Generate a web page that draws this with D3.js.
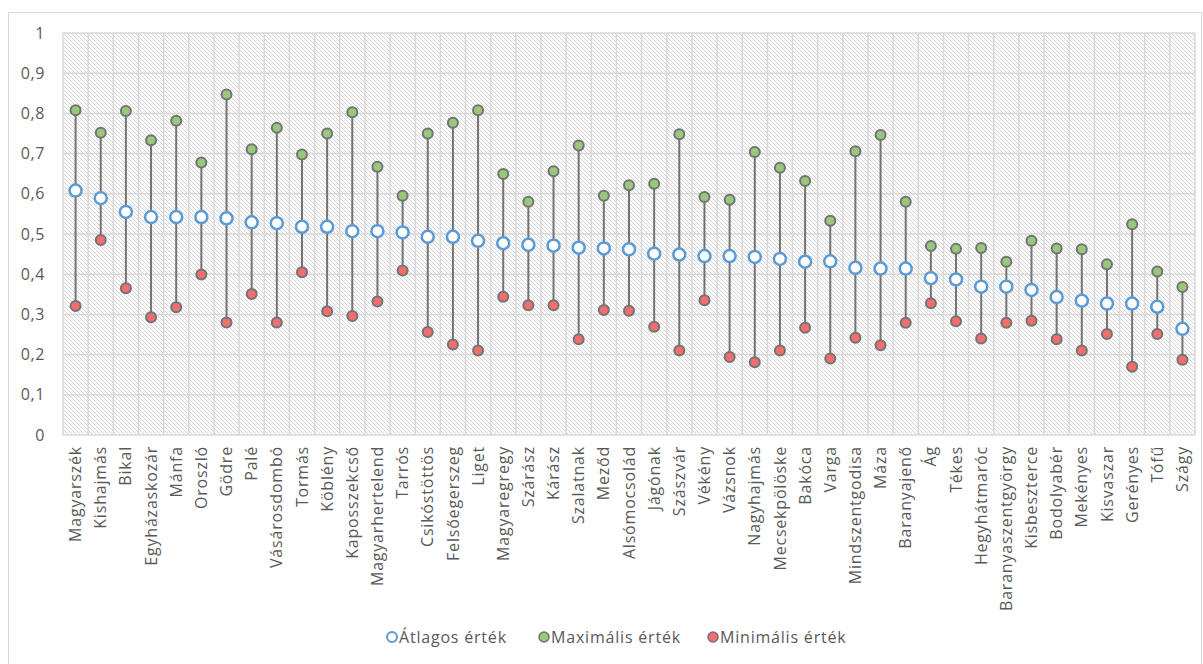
<!DOCTYPE html>
<html>
<head>
<meta charset="utf-8">
<script src="https://cdn.jsdelivr.net/npm/d3@7"></script>
<style>
  body { margin: 0; background: #fff; }
  svg { display: block; font-family: "Open Sans", sans-serif; }
</style>
</head>
<body>
<svg id="drawing_region"></svg>
<script>
const settlements = ["Magyarszék","Kishajmás","Bikal","Egyházaskozár","Mánfa","Oroszló","Gödre","Palé","Vásárosdombó","Tormás","Köblény","Kaposszekcső","Magyarhertelend","Tarrós","Csikóstöttös","Felsőegerszeg","Liget","Magyaregregy","Szárász","Kárász","Szalatnak","Meződ","Alsómocsolád","Jágónak","Szászvár","Vékény","Vázsnok","Nagyhajmás","Mecsekpölöske","Bakóca","Varga","Mindszentgodisa","Máza","Baranyajenő","Ág","Tékes","Hegyhátmaróc","Baranyaszentgyörgy","Kisbeszterce","Bodolyabér","Mekényes","Kisvaszar","Gerényes","Tófű","Szágy"];

const avgValues = [0.608,0.589,0.555,0.542,0.542,0.542,0.539,0.529,0.527,0.518,0.518,0.507,0.507,0.504,0.493,0.493,0.483,0.477,0.473,0.471,0.466,0.464,0.462,0.451,0.449,0.445,0.445,0.443,0.438,0.431,0.432,0.416,0.414,0.414,0.390,0.387,0.369,0.369,0.361,0.343,0.334,0.327,0.327,0.319,0.264];

const maxValues = [0.808,0.752,0.806,0.733,0.782,0.678,0.847,0.711,0.764,0.698,0.750,0.803,0.667,0.595,0.750,0.777,0.808,0.649,0.580,0.656,0.720,0.595,0.621,0.625,0.748,0.592,0.585,0.704,0.665,0.632,0.533,0.706,0.746,0.580,0.470,0.463,0.465,0.431,0.483,0.464,0.462,0.425,0.524,0.407,0.368];

const minValues = [0.321,0.485,0.365,0.293,0.318,0.399,0.280,0.351,0.280,0.405,0.308,0.296,0.332,0.409,0.256,0.225,0.210,0.344,0.323,0.323,0.238,0.311,0.309,0.269,0.210,0.335,0.194,0.181,0.210,0.267,0.190,0.242,0.223,0.279,0.328,0.283,0.240,0.279,0.284,0.238,0.210,0.251,0.170,0.251,0.187];

const yTicks = [0,0.1,0.2,0.3,0.4,0.5,0.6,0.7,0.8,0.9,1];
const legendLabels = ["Átlagos érték","Maximális érték","Minimális érték"];

const data = settlements.map((name, i) => ({
    name: name, avg: avgValues[i], max: maxValues[i], min: minValues[i]
}));

const width = 1203, height = 664;
const margin = {top: 33, right: 8, bottom: 229, left: 63};
const innerW = width - margin.left - margin.right;
const innerH = height - margin.top - margin.bottom;

const grey = "#d9d9d9";
const stemColor = "#737373";
const textColor = "#595959";
const blue = "#5b9bd5";
const green = "#98c97b";
const red = "#f26d6d";

const svg = d3.select("#drawing_region")
    .attr("width", width)
    .attr("height", height);

// hatch pattern for the plot background
const defs = svg.append("defs");
const pat = defs.append("pattern")
    .attr("id", "hatch")
    .attr("patternUnits", "userSpaceOnUse")
    .attr("width", 4)
    .attr("height", 4);
pat.append("rect").attr("width", 4).attr("height", 4).attr("fill", "#fbfbfb");
pat.append("path")
    .attr("d", "M0,0 L4,4 M-1,3 L1,5 M3,-1 L5,1")
    .attr("stroke", "#d6d6d6")
    .attr("stroke-width", 1);

// outer chart frame
svg.append("rect")
    .attr("x", 8.5).attr("y", 12.5)
    .attr("width", 1193).attr("height", 660)
    .attr("fill", "none")
    .attr("stroke", grey);

const chart = svg.append("g")
    .attr("transform", `translate(${margin.left},${margin.top})`);

const xscale = d3.scaleBand()
    .domain(settlements)
    .range([0, innerW]);

const yscale = d3.scaleLinear()
    .domain([0, 1])
    .range([innerH, 0]);

chart.append("rect")
    .attr("width", innerW)
    .attr("height", innerH)
    .attr("fill", "url(#hatch)");

// grid
chart.append("g").selectAll("line").data(yTicks)
    .join("line")
    .attr("x1", 0).attr("x2", innerW)
    .attr("y1", d => yscale(d)).attr("y2", d => yscale(d))
    .attr("stroke", grey).attr("stroke-width", 1.5);

chart.append("g").selectAll("line").data(settlements.concat(["_end"]))
    .join("line")
    .attr("x1", (d, i) => i * xscale.bandwidth())
    .attr("x2", (d, i) => i * xscale.bandwidth())
    .attr("y1", 0).attr("y2", innerH)
    .attr("stroke", grey).attr("stroke-width", 1.5);

// y axis
const yaxis = d3.axisLeft(yscale)
    .tickValues(yTicks)
    .tickSize(0)
    .tickPadding(18)
    .tickFormat(d => d3.format(".1~f")(d).replace(".", ","));

chart.append("g")
    .call(yaxis)
    .call(g => g.select(".domain").remove())
    .selectAll("text")
    .attr("font-size", "16px")
    .attr("letter-spacing", "0.6px")
    .attr("font-family", "Open Sans, sans-serif")
    .attr("fill", textColor);

// x axis
const xaxis = d3.axisBottom(xscale).tickSize(0).tickPadding(0);
chart.append("g")
    .attr("transform", `translate(0,${innerH})`)
    .call(xaxis)
    .call(g => g.select(".domain").remove())
    .selectAll("text")
    .attr("font-size", "16px")
    .attr("letter-spacing", "0.8px")
    .attr("font-family", "Open Sans, sans-serif")
    .attr("fill", textColor)
    .attr("text-anchor", "end")
    .attr("transform", "rotate(-90)")
    .attr("x", -11)
    .attr("y", 0)
    .attr("dy", "0.35em");

const cx = d => xscale(d.name) + xscale.bandwidth() / 2;

// stems
chart.append("g").selectAll("line").data(data)
    .join("line")
    .attr("x1", cx).attr("x2", cx)
    .attr("y1", d => yscale(d.min))
    .attr("y2", d => yscale(d.max))
    .attr("stroke", stemColor)
    .attr("stroke-width", 2);

chart.append("g").selectAll("circle").data(data)
    .join("circle")
    .attr("cx", cx).attr("cy", d => yscale(d.max))
    .attr("r", 5)
    .attr("fill", green)
    .attr("stroke", stemColor).attr("stroke-width", 2);

chart.append("g").selectAll("circle").data(data)
    .join("circle")
    .attr("cx", cx).attr("cy", d => yscale(d.min))
    .attr("r", 5)
    .attr("fill", red)
    .attr("stroke", stemColor).attr("stroke-width", 2);

chart.append("g").selectAll("circle").data(data)
    .join("circle")
    .attr("cx", cx).attr("cy", d => yscale(d.avg))
    .attr("r", 6)
    .attr("fill", "#fff")
    .attr("stroke", blue).attr("stroke-width", 2.5);

// legend
const legendStyles = [
    {fill: "#fff", stroke: blue, sw: 2},
    {fill: green, stroke: stemColor, sw: 1.5},
    {fill: red, stroke: stemColor, sw: 1.5}
];
const legendX = [392, 544, 713];
const legend = svg.append("g");
legendLabels.forEach((label, i) => {
    const g = legend.append("g").attr("transform", `translate(${legendX[i]},637)`);
    g.append("circle")
        .attr("r", 5)
        .attr("fill", legendStyles[i].fill)
        .attr("stroke", legendStyles[i].stroke)
        .attr("stroke-width", legendStyles[i].sw);
    g.append("text")
        .attr("x", 7)
        .attr("dy", "0.35em")
        .attr("font-size", "16px")
        .attr("letter-spacing", "0.8px")
        .attr("fill", textColor)
        .text(label);
});
</script>
</body>
</html>
